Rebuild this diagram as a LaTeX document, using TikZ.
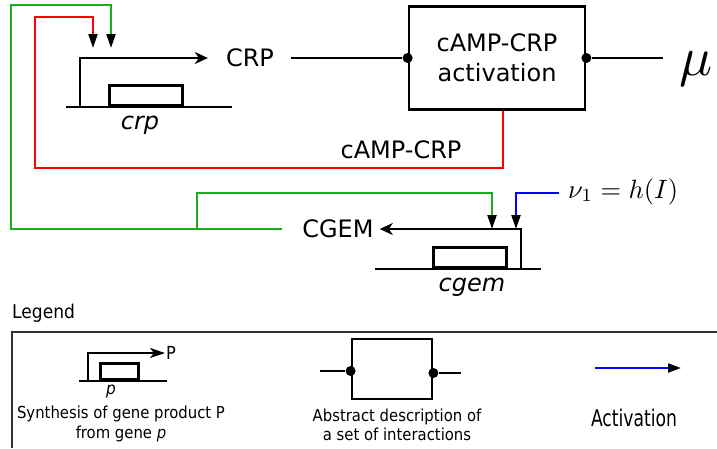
\documentclass[tikz,border=0pt]{standalone}
\usepackage{fontspec}
\setmainfont{DejaVu Sans}
\newfontfamily\condfont{DejaVu Sans Condensed}
\usepackage{xcolor}
\usetikzlibrary{arrows.meta,positioning}
\definecolor{loopgreen}{RGB}{30,170,30}

\begin{document}
\begin{tikzpicture}[
  x=1pt, y=-1pt,
  lbl/.style={inner sep=0pt, font=\fontsize{24}{28}\selectfont},
  genebox/.style={draw, line width=2.6pt, inner sep=0pt, minimum width=73pt, minimum height=20pt, anchor=south west},
  actbox/.style={draw, line width=2.8pt, minimum width=176pt, minimum height=103pt, align=center, font=\fontsize{24}{30}\selectfont},
  wire/.style={line width=2.2pt},
  dna/.style={line width=2.6pt},
  synth/.style={wire, -{Stealth[length=13pt, width=12pt, inset=4pt]}},
  reg/.style={wire, -{Triangle[length=14pt, width=9pt, color=black]}},
  dot/.style={circle, fill, inner sep=0pt, minimum size=10pt},
  legtxt/.style={inner sep=0pt, font=\condfont\fontsize{16.5}{19.5}\selectfont, align=center}
]
\useasboundingbox (0,0) rectangle (717,448);

% Gene crp
\node[lbl] (CRP) at (250,58) {CRP};
\node[genebox] (crpgene) at (108,107) {};
\node[lbl, font=\fontsize{24}{28}\selectfont\itshape] (crplbl) at (140,125) {crp};
\coordinate (crpL) at (66,107);
\coordinate (crpR) at (232,107);
\coordinate (crpprom) at (80,107);
\coordinate (crpsite1) at (93,48);
\coordinate (crpsite2) at (111,48);
\draw[dna] (crpL) -- (crpR);
\draw[synth] (crpprom) |- ([xshift=-18pt]CRP.west);

% cAMP-CRP activation
\node[actbox] (act) at (497,58) {cAMP-CRP\\activation};
\node[dot] (actin) at (act.west) {};
\node[dot] (actout) at (act.east) {};
\node[inner sep=0pt, scale=5.5] (mu) at (696,69) {$\mu$};
\draw[wire] ([xshift=17pt]CRP.east) -- (actin);
\draw[wire, shorten >=15pt] (actout) -- (actout -| mu.west);

% Gene cgem
\node[lbl] (CGEM) at (338,229) {CGEM};
\node[genebox] (cgemgene) at (432,269) {};
\node[lbl, font=\fontsize{24}{28}\selectfont\itshape] (cgemlbl) at (472,287) {cgem};
\node[inner sep=1pt, anchor=base west, scale=2.65] (nu) at (565,198) {$\nu_1 = h(I)$};
\coordinate (cgemL) at (375,269);
\coordinate (cgemR) at (541,269);
\coordinate (cgemprom) at (521,269);
\coordinate (cgemsite1) at (492,229);
\coordinate (cgemsite2) at (516,229);
\coordinate (branch) at (197,229);
\draw[dna] (cgemL) -- (cgemR);
\draw[synth] (cgemprom) |- ([xshift=6pt]CGEM.east);

% Feedback loops
\node[lbl] (camplbl) at (401,150) {cAMP-CRP};
\draw[reg, red] ([xshift=6pt]act.south) |- (35,168) |- (93,17) -- (crpsite1);
\draw[reg, loopgreen] ([xshift=-20pt]CGEM.west) -| (11,5) -| (crpsite2);
\draw[reg, loopgreen] (branch) |- (492,193) -- (cgemsite1);
\draw[reg, blue] ([xshift=-6pt, yshift=-2pt]nu.west) -| (cgemsite2);

% Legend
\node[inner sep=0pt, anchor=west, font=\condfont\fontsize{19}{20}\selectfont] (legend) at (12,313) {Legend};
\coordinate (legNE) at (717,332);
\coordinate (legSW) at (12,448);
\draw[line width=1.5pt, black!80] (legNE) -| (legSW);

% Legend: synthesis
\node[genebox, minimum width=38pt, minimum height=16pt] (pgene) at (99,381) {};
\node[inner sep=0pt, anchor=west, font=\condfont\fontsize{18}{19}\selectfont] (Plbl) at (166,353) {P};
\node[inner sep=0pt, font=\condfont\fontsize{17}{18}\selectfont\itshape] (plbl) at (111,391) {p};
\coordinate (pL) at (79,381);
\coordinate (pR) at (167,381);
\coordinate (pprom) at (88,381);
\draw[dna] (pL) -- (pR);
\draw[wire, -{Stealth[length=15pt, width=10pt, inset=4pt]}] (pprom) |- ([xshift=-1pt]Plbl.west);
\node[legtxt] (synthtxt) at (121,424) {Synthesis of gene product P\\from gene \textit{p}};

% Legend: interactions
\node[draw, line width=2.8pt, minimum width=80pt, minimum height=60pt] (absbox) at (392,369) {};
\node[dot] (absin) at ([yshift=-2pt]absbox.west) {};
\node[dot] (absout) at ([yshift=-4pt]absbox.east) {};
\coordinate (absL) at (320,371);
\coordinate (absR) at (461,373);
\draw[wire] (absL) -- (absin);
\draw[wire] (absout) -- (absR);
\node[legtxt] (abstxt) at (397,425) {Abstract description of\\a set of interactions};

% Legend: activation
\coordinate (actA) at (595,368);
\coordinate (actB) at (681,368);
\draw[reg, blue, -{Triangle[length=13pt, width=9pt, color=black]}] (actA) -- (actB);
\node[inner sep=0pt, font=\condfont\fontsize{23}{25}\selectfont, xscale=0.83] (acttxt) at (634,418) {Activation};

\end{tikzpicture}
\end{document}
